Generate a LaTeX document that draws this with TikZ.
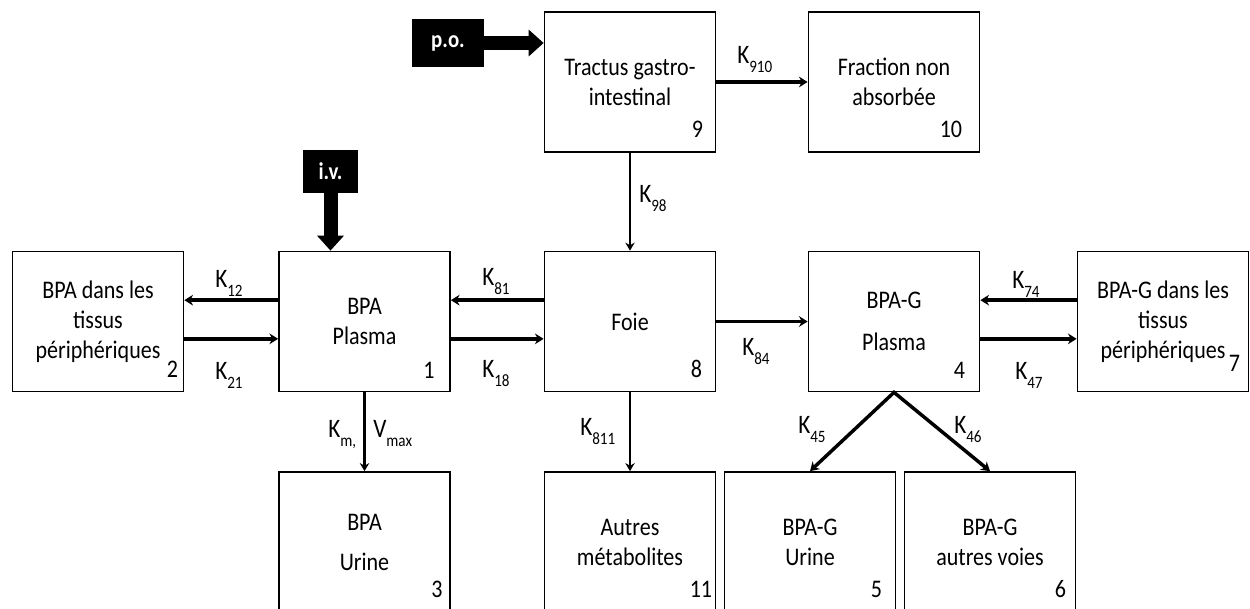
\documentclass[tikz,border=0pt]{standalone}
\usepackage{fontspec}
\setmainfont{Carlito}[FakeStretch=0.87]
\usetikzlibrary{arrows.meta}
\newcommand{\rt}[2]{#1\raisebox{-7pt}{\fontsize{13pt}{13pt}\selectfont #2}}

\begin{document}
\begin{tikzpicture}[x=0.75pt,y=-0.75pt,
	comp/.style={draw,line width=1.3pt,minimum width=128.25pt,minimum height=105pt,inner sep=0pt,align=center,font=\fontsize{19pt}{22.5pt}\selectfont},
	num/.style={anchor=base east,inner sep=0pt,font=\fontsize{19pt}{22pt}\selectfont},
	rate/.style={anchor=base west,inner sep=0pt,font=\fontsize{20pt}{22pt}\selectfont},
	dose/.style={fill=black,text=white,inner sep=0pt,font=\fontsize{18pt}{22pt}\selectfont\bfseries},
	flow/.style={line width=2.6pt,-{Stealth[length=6.5pt,width=8pt]}},
	thinflow/.style={line width=2pt,-{Stealth[length=6pt,width=7pt]}},
	fork/.style={line width=2.6pt,{Stealth[length=6.5pt,width=8pt]}-{Stealth[length=6.5pt,width=8pt]}},
	bigflow/.style={line width=10.5pt,-{Triangle[length=11.25pt,width=19.5pt]}}]
	
	\useasboundingbox (0,0) rectangle (1250,608);
	\clip (0,0) rectangle (1250,608);
	
	% TOP ROW
	\node[comp] (b9) at (630,82) {Tractus gastro-\\intestinal};
	\node[comp] (b10) at (894,82) {Fraction non\\absorbée};
	\node[num] (n9) at ([shift={(-13,-15)}]b9.south east) {9};
	\node[num] (n10) at ([shift={(-18,-15)}]b10.south east) {10};
	
	% MIDDLE ROW
	\node[comp] (b2) at (98,321.5) {BPA dans les\\tissus\\périphériques};
	\node[comp] (b1) at (364.5,321.5) {BPA\\Plasma};
	\node[comp] (b8) at (630,321.5) {Foie};
	\node[comp] (b4) at (894,321.5) {BPA-G\\[9.5pt]Plasma};
	\node[comp] (b7) at (1163,321.5) {BPA-G dans les\\tissus\\périphériques};
	\node[num] (n2) at ([shift={(-6,-15)}]b2.south east) {2};
	\node[num] (n1) at ([shift={(-16,-14)}]b1.south east) {1};
	\node[num] (n8) at ([shift={(-14,-15)}]b8.south east) {8};
	\node[num] (n4) at ([shift={(-15,-14)}]b4.south east) {4};
	\node[num] (n7) at ([shift={(-9,-21)}]b7.south east) {7};
	
	% BOTTOM ROW
	\node[comp] (b3) at (364.5,542) {BPA\\[7.5pt]Urine};
	\node[comp] (b11) at (630,542) {Autres\\métabolites};
	\node[comp] (b5) at (810,542) {BPA-G\\Urine};
	\node[comp] (b6) at (990,542) {BPA-G\\autres voies};
	\node[num] (n3) at ([shift={(-8,-15)}]b3.south east) {3};
	\node[num] (n11) at ([shift={(-4,-15)}]b11.south east) {11};
	\node[num] (n5) at ([shift={(-14,-15)}]b5.south east) {5};
	\node[num] (n6) at ([shift={(-10,-15)}]b6.south east) {6};
	
	% DOSING
	\node[dose,minimum width=54pt,minimum height=36pt] (po) at (448,43) {p.o.};
	\node[dose,minimum width=41.25pt,minimum height=32.25pt] (iv) at (330.5,171.5) {i.v.};
	\draw[bigflow] (po.east) -- (po.east -| b9.west);
	\draw[bigflow] (iv.south) -- (iv.south |- b1.north);
	
	% TRANSFERS
	\draw[flow] (b9.east) -- (b10.west);
	\draw[thinflow] (b9.south) -- (b8.north);
	\draw[flow] ([yshift=16pt]b1.west) -- ([yshift=16pt]b2.east);
	\draw[flow] ([yshift=-13pt]b2.east) -- ([yshift=-13pt]b1.west);
	\draw[flow] ([yshift=16pt]b8.west) -- ([yshift=16pt]b1.east);
	\draw[flow] ([yshift=-13pt]b1.east) -- ([yshift=-13pt]b8.west);
	\draw[flow] (b8.east) -- (b4.west);
	\draw[flow] ([yshift=16pt]b7.west) -- ([yshift=16pt]b4.east);
	\draw[flow] ([yshift=-13pt]b4.east) -- ([yshift=-13pt]b7.west);
	\draw[thinflow] (b1.south) -- (b3.north);
	\draw[thinflow] (b8.south) -- (b11.north);
	\draw[fork] (b5.north) -- (b4.south) -- (b6.north);
	
	% RATE CONSTANTS
	\node[rate] (k910) at (737,63) {\rt{K}{910}};
	\node[rate] (k98) at (639,202) {\rt{K}{98}};
	\node[rate] (k12) at (215,287) {\rt{K}{12}};
	\node[rate] (k21) at (215,379) {\rt{K}{21}};
	\node[rate] (k81) at (482,285) {\rt{K}{81}};
	\node[rate] (k18) at (482,377) {\rt{K}{18}};
	\node[rate] (k84) at (742,355) {\rt{K}{84}};
	\node[rate] (k74) at (1012,288) {\rt{K}{74}};
	\node[rate] (k47) at (1015,379) {\rt{K}{47}};
	\node[rate] (k811) at (580,435) {\rt{K}{811}};
	\node[rate] (km) at (328,437) {\rt{K}{m,}};
	\node[rate] (vmax) at (373,437) {\rt{V}{max}};
	\node[rate] (k45) at (798,433) {\rt{K}{45}};
	\node[rate] (k46) at (954,433) {\rt{K}{46}};
\end{tikzpicture}
\end{document}
